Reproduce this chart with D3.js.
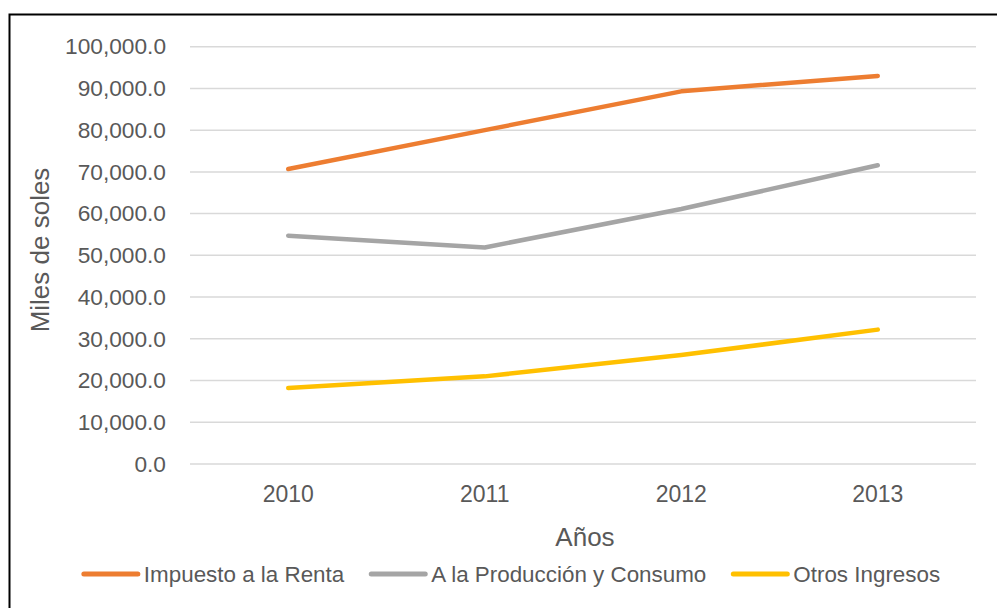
<!DOCTYPE html>
<html>
<head>
<meta charset="utf-8">
<script src="https://cdn.jsdelivr.net/npm/d3@7"></script>
<style>
  html, body { margin: 0; padding: 0; background: #fff; }
  svg { display: block; }
  text { font-family: "Liberation Sans Narrow", "Arial Narrow", "Liberation Sans", sans-serif; fill: #595959; }
</style>
</head>
<body>
<svg id="chart" width="997" height="608"></svg>
<script>
const categories = ["2010", "2011", "2012", "2013"];
const seriesNames = ["Impuesto a la Renta", "A la Producción y Consumo", "Otros Ingresos"];
const impuestoRenta = [70700, 80000, 89300, 93000];
const produccionConsumo = [54700, 51900, 61100, 71600];
const otrosIngresos = [18200, 21000, 26100, 32200];
const yTicks = [0, 10000, 20000, 30000, 40000, 50000, 60000, 70000, 80000, 90000, 100000];
const colors = ["#ED7D31", "#A5A5A5", "#FFC000"];
const seriesValues = [impuestoRenta, produccionConsumo, otrosIngresos];

const svg = d3.select("#chart");
const W = 997, H = 608;
const plot = { left: 190, right: 976, top: 46.7, bottom: 464 };
const FONT = '"Liberation Sans Narrow", "Arial Narrow", "Liberation Sans", sans-serif';

// outer border (top & left visible; extends past right/bottom)
svg.append("rect")
  .attr("x", 9.5).attr("y", 14.5)
  .attr("width", W + 20).attr("height", H + 20)
  .attr("fill", "#fff").attr("stroke", "#000").attr("stroke-width", 2);

const x = d3.scaleBand().domain(categories).range([plot.left, plot.right]);
const y = d3.scaleLinear().domain([0, 100000]).range([plot.bottom, plot.top]);

// gridlines
svg.append("g").selectAll("line").data(yTicks).join("line")
  .attr("x1", plot.left).attr("x2", plot.right)
  .attr("y1", d => y(d)).attr("y2", d => y(d))
  .attr("stroke", "#D9D9D9").attr("stroke-width", 1.5);

// y axis labels
const fmt = d3.format(",.1f");
const yAxis = d3.axisLeft(y).tickValues(yTicks).tickFormat(fmt).tickSize(0).tickPadding(24);
const gy = svg.append("g").attr("transform", `translate(${plot.left},0)`).call(yAxis);
gy.select(".domain").remove();
gy.selectAll("text").attr("font-size", 22.7).attr("fill", "#595959").style("font-family", FONT);

// x axis labels
const xAxis = d3.axisBottom(x).tickSize(0).tickPadding(22);
const gx = svg.append("g").attr("transform", `translate(0,${plot.bottom})`).call(xAxis);
gx.select(".domain").remove();
gx.selectAll("text").attr("font-size", 23).attr("fill", "#595959").style("font-family", FONT);

// lines
const line = d3.line()
  .x((d, i) => x(categories[i]) + x.bandwidth() / 2)
  .y(d => y(d));
svg.append("g").selectAll("path").data(seriesValues).join("path")
  .attr("d", d => line(d))
  .attr("fill", "none")
  .attr("stroke", (d, i) => colors[i])
  .attr("stroke-width", 4.5)
  .attr("stroke-linecap", "round")
  .attr("stroke-linejoin", "round");

// axis titles
svg.append("text")
  .attr("transform", "translate(49,250) rotate(-90)")
  .attr("text-anchor", "middle")
  .attr("font-size", 26)
  .text("Miles de soles");
svg.append("text")
  .attr("x", 585).attr("y", 546)
  .attr("text-anchor", "middle")
  .attr("font-size", 26)
  .text("Años");

// legend
const legend = svg.append("g");
const items = legend.selectAll("g").data(seriesNames).join("g");
items.append("line")
  .attr("x1", 0).attr("x2", 54).attr("y1", 0).attr("y2", 0)
  .attr("stroke", (d, i) => colors[i]).attr("stroke-width", 5)
  .attr("stroke-linecap", "round");
items.append("text")
  .attr("x", 60).attr("y", 8)
  .attr("font-size", 22.4)
  .text(d => d);
let widths = [];
items.each(function() { widths.push(60 + d3.select(this).select("text").node().getComputedTextLength()); });
const gap = 27;
const total = d3.sum(widths) + gap * (widths.length - 1);
let cx = 512 - total / 2;
items.attr("transform", (d, i) => {
  const t = `translate(${cx},${574})`;
  cx += widths[i] + gap;
  return t;
});
</script>
</body>
</html>
